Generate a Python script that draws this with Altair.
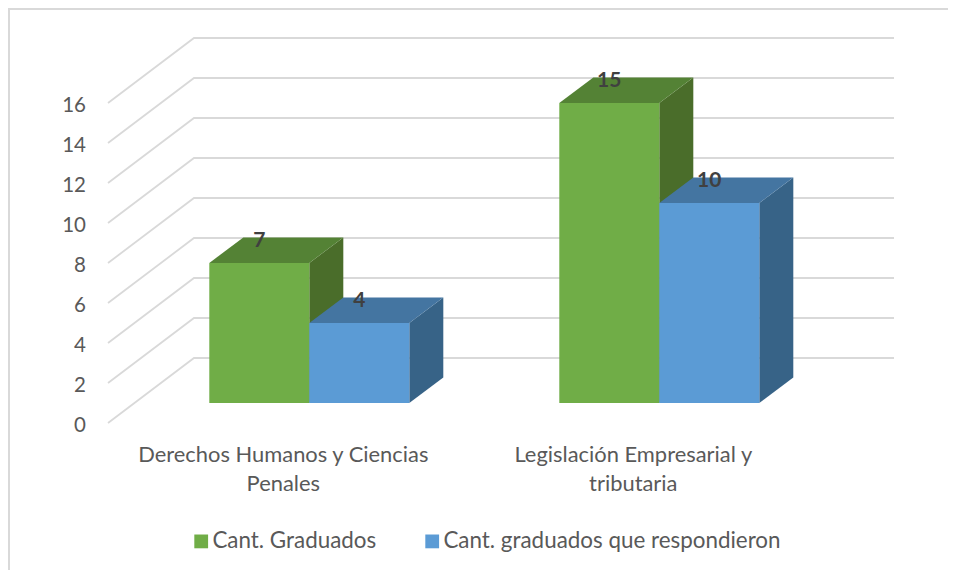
import altair as alt
import pandas as pd

categories = ["Derechos Humanos y Ciencias\nPenales", "Legislación Empresarial y\ntributaria"]
series_names = ["Cant. Graduados", "Cant. graduados que respondieron"]
graduados = [7, 15]
respondieron = [4, 10]
ticks = [0, 2, 4, 6, 8, 10, 12, 14, 16]

FONT = "Lato"
GREEN = ["#70AD47", "#548235", "#4A6D2A"]   # front, top, side
BLUE = ["#5B9BD5", "#4475A1", "#376387"]

W, H = 940, 562
# one x unit = one bar width; one y unit = one value on the chart
x_scale = alt.Scale(domain=[0, W / 100], range=[0, W], nice=False, zero=False)
y_scale = alt.Scale(domain=[19.75 - H / 20, 19.75], range=[H, 0], nice=False, zero=False)
X = lambda f: alt.X(f, type="quantitative", scale=x_scale, axis=None)
Y = lambda f: alt.Y(f, type="quantitative", scale=y_scale, axis=None)

group_x = [2.013, 5.513]   # left edge of each group's first bar
DX, DY = 0.34, 1.28        # bar depth
wall_front, wall_back, wall_end = 1.0, 1.86, 8.86
floor_front, floor_back = -1.0, 2.25

layers = []

# walls / gridlines
grid_rows = []
for t in ticks:
    grid_rows += [
        {"t": t, "x": wall_front, "y": t + floor_front},
        {"t": t, "x": wall_back, "y": t + floor_back},
        {"t": t, "x": wall_end, "y": t + floor_back},
    ]
layers.append(
    alt.Chart(pd.DataFrame(grid_rows))
    .mark_line(color="#D9D9D9", strokeWidth=1.8)
    .encode(x=X("x"), y=Y("y"), detail="t:N")
)

# outer frame
layers.append(
    alt.Chart(pd.DataFrame({"x": [0.01], "y": [19.7]}))
    .mark_rule(color="#D9D9D9", strokeWidth=2)
    .encode(x=X("x"), y=alt.value(0), y2=alt.value(H))
)
layers.append(
    alt.Chart(pd.DataFrame({"x": [0.01], "y": [19.7]}))
    .mark_rule(color="#D9D9D9", strokeWidth=2)
    .encode(y=Y("y"), x=alt.value(0), x2=alt.value(W))
)

# bars
front_rows, label_rows = [], []
for s, (name, values, shades) in enumerate(
    zip(series_names, [graduados, respondieron], [GREEN, BLUE])
):
    side_rows, top_rows = [], []
    for g, v in enumerate(values):
        x0 = group_x[g] + s
        x1 = x0 + 1
        side_rows += [
            {"g": g, "x": x1, "lo": 0, "hi": v},
            {"g": g, "x": x1 + DX, "lo": DY, "hi": v + DY},
        ]
        top_rows += [
            {"g": g, "x": x0, "lo": v, "hi": v},
            {"g": g, "x": x0 + DX, "lo": v, "hi": v + DY},
            {"g": g, "x": x1, "lo": v, "hi": v + DY},
            {"g": g, "x": x1 + DX, "lo": v + DY, "hi": v + DY},
        ]
        front_rows.append({"series": name, "x0": x0, "x1": x1, "lo": 0, "v": v})
        label_rows.append({"x": (x0 + x1) / 2, "y": v + 1.12, "v": v})
    for rows, colour in ((side_rows, shades[2]), (top_rows, shades[1])):
        layers.append(
            alt.Chart(pd.DataFrame(rows))
            .mark_area(color=colour, orient="vertical", interpolate="linear")
            .encode(x=X("x"), y=Y("hi"), y2="lo:Q", detail="g:N")
        )

layers.append(
    alt.Chart(pd.DataFrame(front_rows))
    .mark_rect()
    .encode(
        x=X("x0"),
        x2="x1:Q",
        y=Y("v"),
        y2="lo:Q",
        color=alt.Color(
            "series:N",
            scale=alt.Scale(domain=series_names, range=[GREEN[0], BLUE[0]]),
            legend=alt.Legend(
                title=None,
                orient="none",
                legendX=182,
                legendY=522,
                direction="horizontal",
                symbolType="square",
                symbolSize=190,
                symbolStrokeWidth=0,
                labelFont=FONT,
                labelFontSize=22.4,
                labelColor="#595959",
                labelOffset=0,
                columnPadding=44,
                labelLimit=500,
            ),
        ),
    )
)

# data labels
layers.append(
    alt.Chart(pd.DataFrame(label_rows))
    .mark_text(font=FONT, fontSize=21, fontWeight="bold", color="#404040", baseline="middle")
    .encode(x=X("x"), y=Y("y"), text="v:Q")
)

# value tick labels
layers.append(
    alt.Chart(pd.DataFrame({"t": ticks, "x": [0.78] * len(ticks), "y": [t + floor_front - 0.13 for t in ticks]}))
    .mark_text(font=FONT, fontSize=20.5, color="#595959", align="right", baseline="middle")
    .encode(x=X("x"), y=Y("y"), text="t:Q")
)

# category labels
layers.append(
    alt.Chart(pd.DataFrame({"c": categories, "x": [g + 0.74 for g in group_x], "y": [-2.6] * 2}))
    .mark_text(font=FONT, fontSize=21.9, color="#595959", align="center", baseline="middle",
               lineBreak="\n", lineHeight=29)
    .encode(x=X("x"), y=Y("y"), text="c:N")
)

chart = (
    alt.layer(*layers)
    .properties(width=W, height=H, padding=0, autosize=alt.AutoSizeParams(type="none"), background="white")
    .configure_view(stroke=None)
)
chart.save("out.html", embed_options={"renderer": "svg", "actions": False})
